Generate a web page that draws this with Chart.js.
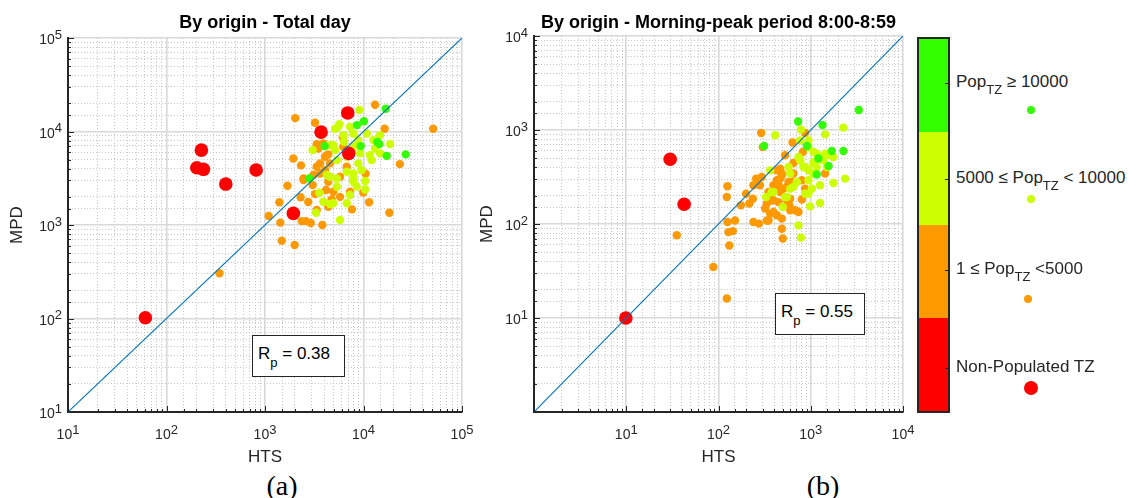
<!DOCTYPE html>
<html>
<head>
<meta charset="utf-8">
<script src="https://cdn.jsdelivr.net/npm/chart.js@4.4.1/dist/chart.umd.min.js"></script>
<style>
  body { margin: 0; background: #fff; width: 1138px; height: 498px; position: relative; overflow: hidden;
         font-family: "Liberation Sans", Arial, sans-serif; color: #262626; }
  canvas { position: absolute; top: 0; }
  #chartA { left: 0; }
  #chartB { left: 466px; }
  .rbox { position: absolute; border: 1px solid #262626; box-sizing: border-box; background: #fff;
          font-size: 17px; line-height: 20px; padding: 8px 0 0 5px; white-space: nowrap; color: #000; }
  .rbox sub { font-size: 13px; position: relative; top: 8px; vertical-align: baseline; }
  .lab { position: absolute; left: 956px; font-size: 17px; line-height: 20px; white-space: nowrap; }
  .lab sub { font-size: 13px; position: relative; top: 7px; vertical-align: baseline; }
  .dot { position: absolute; border-radius: 50%; }
  #cbar { position: absolute; left: 917px; top: 37px; width: 33px; height: 376px; border: 2px solid #262626;
          box-sizing: border-box; display: flex; flex-direction: column; }
  #cbar div { flex: 1; }
  .ctick { position: absolute; left: 945px; width: 3px; height: 1px; background: #262626; }
  .cap { position: absolute; top: 472px; font-family: "Liberation Serif", "Times New Roman", serif; font-size: 28px;
         line-height: 28px; color: #000; transform: translateX(-50%); }
</style>
</head>
<body>
<canvas id="chartA" width="480" height="470"></canvas>
<canvas id="chartB" width="455" height="470"></canvas>
<div id="cbar"></div>
<div class="rbox" id="rA" style="left:252px; top:335px; width:93px; height:42px;"></div>
<div class="rbox" id="rB" style="left:775px; top:293px; width:90px; height:42px;"></div>
<div class="cap" style="left:282px;">(a)</div>
<div class="cap" style="left:823px;">(b)</div>
<script>
// [HTS, MPD] pairs, grouped by population class
const totalRed = [[6920,15800],[3710,9840],[7080,5840],[226,6320],[203,4090],[237,3940],[813,3870],[400,2740],[1940,1330],[61,102]];
const totalGreen = [[16800,17500],[10100,12900],[8590,11700],[4030,6980],[9380,6980],[13800,7750],[14500,7330],[17200,5490],[26800,5690],[2820,3150]];
const totalYellow = [[9060,17000],[5690,12000],[5140,10700],[7880,9520],[6340,7750],[10800,9520],[3050,6320],[4940,7140],[14700,9140],[18600,7330],
  [14700,5840],[12100,4940],[10400,2950],[5780,1130],[3300,1350],[3560,2210],[7300,2090],[8530,2570],[8850,4560],[9590,3860],
  [7880,3560],[6760,5360],[9230,5840],[5350,4940],[4570,3280],[7880,2900],[4940,1710],[6760,1710],[3910,1770],[5350,2570],
  [12600,8090],[7880,6860],[8850,8090],[4570,1680],[13100,6590],[11600,5590],[10400,2400],[5550,11200],[7300,11200],[6240,9140],
  [4570,7140],[5140,6320],[8530,7140],[6760,3710],[5350,3150],[7880,3150],[4240,3420]];
const totalOrange = [[13100,19300],[2030,13900],[3220,12400],[16400,10700],[51000,10700],[6150,8770],[1940,5150],[2320,4340],[23400,4480],[10500,3530],
  [1690,2630],[2460,3030],[1400,1750],[2300,1980],[11400,1750],[7640,1470],[18300,1350],[1090,1250],[1430,1060],[2360,1100],
  [2610,1100],[2910,1050],[3820,1000],[1480,680],[2000,611],[345,305],[3350,1445],[2750,1760],[3220,2140],[4750,1880],
  [4940,2270],[4390,2900],[3620,3560],[3100,3420],[3620,4560],[4070,5360],[4390,5690],[6240,6860],[3910,7450],[3350,7330],
  [5780,3280],[6760,4200],[7300,2270],[5780,2000],[4390,1570],[9950,2230],[3050,2670],[4070,3860],[4170,2370],[3480,6590],
  [4240,5590],[2460,3150],[3350,4200],[4570,4560]];

const peakRed = [[29.9,488],[42.4,162],[9.9,10]];
const peakGreen = [[3320,1630],[730,1230],[1340,1130],[312,676],[907,676],[2260,598],[1690,598],[1560,414],[1160,336],[1210,497]];
const peakYellow = [[411,879],[781,1010],[1430,899],[2260,1060],[944,659],[1070,583],[1760,516],[2360,304],[1760,273],[1260,167],
  [985,154],[736,96.8],[781,71.7],[328,194],[394,219],[498,152],[573,404],[736,516],[1070,344],[1260,258],
  [944,210],[1370,476],[1620,538],[1070,440],[834,404],[707,280],[944,292],[363,372],[767,776],[649,248],
  [1160,404],[1500,404],[551,194],[944,776],[1430,561],[1070,457],[869,404],[1030,238],[598,238],[1160,561],
  [767,476],[944,372],[598,344],[378,219],[527,194],[869,210]];
const peakOrange = [[290,929],[302,659],[634,735],[869,929],[527,538],[125,252],[123,194],[175,158],[199,210],[216,165],
  [236,186],[256,304],[239,258],[125,105],[151,109],[128,82],[143,84],[131,59],[35.3,75.9],[239,105],
  [274,101],[334,109],[394,134],[486,114],[486,89],[498,70],[320,146],[677,140],[736,134],[800,182],
  [598,186],[466,219],[429,292],[486,344],[649,344],[800,292],[869,238],[624,280],[551,248],[466,388],
  [767,476],[820,583],[1430,344],[394,258],[363,194],[446,171],[587,158],[88,34.9],[123,16.1],[334,165],
  [363,129],[294,316],[649,446],[466,304],[446,258],[598,269],[394,179],[551,179],[349,109],[348,219],
  [429,372],[486,330],[573,280],[506,238],[378,179],[282,258],[598,140],[429,124]];

const rangeTotal = [10, 100000];
const rangePeak = [1, 10000];
const ticksTotal = [10, 100, 1000, 10000, 100000];
const ticksPeak = [10, 100, 1000, 10000];
const rpTotal = '0.38';
const rpPeak = '0.55';

const classLabels = ['Pop<sub>TZ</sub> &ge; 10000', '5000 &le; Pop<sub>TZ</sub> &lt; 10000', '1 &le; Pop<sub>TZ</sub> &lt;5000', 'Non-Populated TZ'];
const classColors = ['#33ff00', '#ccff00', '#ff9900', '#ff0000'];

const FONT = '"Liberation Sans", Arial, sans-serif';

function isDecade(v) {
    const l = Math.log10(v);
    return Math.abs(l - Math.round(l)) < 1e-6;
}

const toPts = arr => arr.map(p => ({x: p[0], y: p[1]}));

// title, inward ticks and 10^n labels like the matlab axes
const matlabAxes = {
    id: 'matlabAxes',
    afterDraw(chart, args, opts) {
        const {ctx, chartArea: ca, scales: {x, y}} = chart;
        ctx.save();
        ctx.fillStyle = '#000';
        ctx.font = 'bold 18px ' + FONT;
        ctx.textAlign = 'center';
        ctx.textBaseline = 'middle';
        ctx.fillText(opts.title, (ca.left + ca.right) / 2, 23);

        ctx.strokeStyle = '#262626';
        ctx.lineWidth = 1;
        ctx.beginPath();
        x.ticks.forEach(t => {
            const px = Math.round(x.getPixelForValue(t.value)) + 0.5;
            const len = isDecade(t.value) ? 6 : 3;
            ctx.moveTo(px, ca.bottom);
            ctx.lineTo(px, ca.bottom - len);
        });
        y.ticks.forEach(t => {
            const py = Math.round(y.getPixelForValue(t.value)) + 0.5;
            const len = isDecade(t.value) ? 6 : 3;
            ctx.moveTo(ca.left, py);
            ctx.lineTo(ca.left + len, py);
        });
        ctx.stroke();

        ctx.fillStyle = '#262626';
        ctx.textAlign = 'left';
        ctx.textBaseline = 'alphabetic';
        opts.labels.forEach(v => {
            const e = String(Math.round(Math.log10(v)));
            ctx.font = '14px ' + FONT;
            const w1 = ctx.measureText('10').width;
            ctx.font = '13px ' + FONT;
            const w2 = ctx.measureText(e).width;

            const px = x.getPixelForValue(v);
            let sx = px - (w1 + w2) / 2;
            ctx.font = '14px ' + FONT;
            ctx.fillText('10', sx, ca.bottom + 27);
            ctx.font = '13px ' + FONT;
            ctx.fillText(e, sx + w1, ca.bottom + 21.5);

            const py = y.getPixelForValue(v);
            sx = ca.left - 6 - (w1 + w2);
            ctx.font = '14px ' + FONT;
            ctx.fillText('10', sx, py + 6);
            ctx.font = '13px ' + FONT;
            ctx.fillText(e, sx + w1, py + 0.5);
        });
        ctx.restore();
    }
};

function logAxis(range, title, fitSize, titlePad, horizontal) {
    return {
        type: 'logarithmic',
        min: range[0],
        max: range[1],
        ticks: { display: false, autoSkip: false },
        grid: {
            drawTicks: false,
            color: ctx => (ctx.tick && isDecade(ctx.tick.value)) ? '#d9d9d9' : '#c8c8c8',
            lineWidth: ctx => (ctx.tick && isDecade(ctx.tick.value)) ? 1.6 : 1
        },
        border: {
            color: '#262626',
            width: 2,
            dash: ctx => (ctx.tick && !isDecade(ctx.tick.value)) ? [1, 2] : []
        },
        title: {
            display: true,
            text: title,
            color: '#262626',
            font: { family: FONT, size: 17 },
            padding: titlePad
        },
        afterFit: scale => {
            if (horizontal) scale.height = fitSize;
            else scale.width = fitSize;
        }
    };
}

function createPanel(canvasId, title, range, labels, red, green, yellow, orange, topPad, yTitlePad) {
    const ctx = document.getElementById(canvasId).getContext('2d');
    const dot = (data, color, r) => ({
        data: toPts(data),
        backgroundColor: color,
        borderWidth: 0,
        pointRadius: r,
        pointHoverRadius: r
    });
    return new Chart(ctx, {
        type: 'scatter',
        data: {
            datasets: [
                {
                    data: toPts([[range[0], range[0]], [range[1], range[1]]]),
                    showLine: true,
                    borderColor: '#0072bd',
                    borderWidth: 1.1,
                    pointRadius: 0
                },
                dot(red, classColors[3], 6.8),
                dot(green, classColors[0], 4.2),
                dot(yellow, classColors[1], 4.2),
                dot(orange, classColors[2], 4.2)
            ]
        },
        options: {
            responsive: false,
            animation: false,
            devicePixelRatio: 1,
            layout: { padding: { top: topPad, right: 18, bottom: 0, left: 0 } },
            plugins: {
                legend: { display: false },
                tooltip: { enabled: false },
                matlabAxes: { title: title, labels: labels }
            },
            scales: {
                x: logAxis(range, 'HTS', 58, { top: 0, bottom: 2 }, true),
                y: logAxis(range, 'MPD', 68, { top: yTitlePad, bottom: 0 }, false)
            }
        },
        plugins: [matlabAxes]
    });
}

createPanel('chartA', 'By origin - Total day', rangeTotal, ticksTotal, totalRed, totalGreen, totalYellow, totalOrange, 38, 7);
createPanel('chartB', 'By origin - Morning-peak period 8:00-8:59', rangePeak, ticksPeak, peakRed, peakGreen, peakYellow, peakOrange, 36, 11);

document.getElementById('rA').innerHTML = 'R<sub>p</sub> = ' + rpTotal;
document.getElementById('rB').innerHTML = 'R<sub>p</sub> = ' + rpPeak;

// colour bar legend
const cbar = document.getElementById('cbar');
const labelY = [82, 177.5, 269, 366.7];
const dotPos = [[1031, 110, 4], [1031, 199, 4], [1028, 299, 4], [1031, 388, 7]];
classColors.forEach((c, i) => {
    const seg = document.createElement('div');
    seg.style.background = c;
    cbar.appendChild(seg);

    const lab = document.createElement('div');
    lab.className = 'lab';
    lab.style.top = (labelY[i] - 10) + 'px';
    lab.innerHTML = classLabels[i];
    document.body.appendChild(lab);

    const t = document.createElement('div');
    t.className = 'ctick';
    t.style.top = Math.round(labelY[i] + 1) + 'px';
    document.body.appendChild(t);

    const d = document.createElement('div');
    d.className = 'dot';
    const [cx, cy, r] = dotPos[i];
    d.style.left = (cx - r) + 'px';
    d.style.top = (cy - r) + 'px';
    d.style.width = (2 * r) + 'px';
    d.style.height = (2 * r) + 'px';
    d.style.background = c;
    document.body.appendChild(d);
});
</script>
</body>
</html>
